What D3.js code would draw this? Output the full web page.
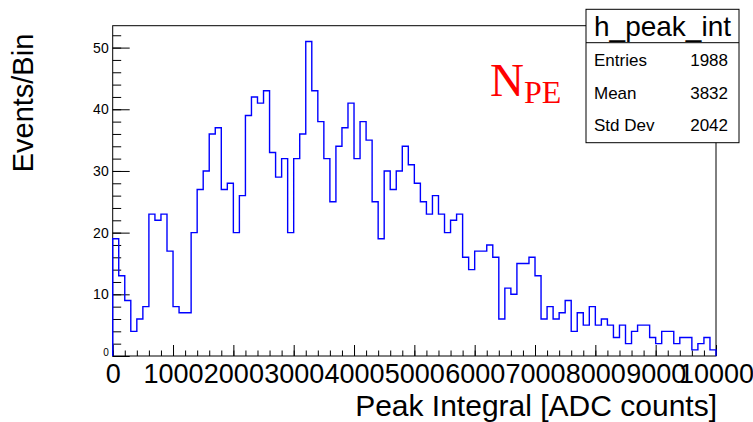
<!DOCTYPE html>
<html>
<head>
<meta charset="utf-8">
<script src="https://cdn.jsdelivr.net/npm/d3@7"></script>
<style>
  body { margin: 0; background: #fff; }
  text { font-family: "Liberation Sans", Arial, Helvetica, sans-serif; }
</style>
</head>
<body>
<svg id="chart" width="753" height="422"></svg>
<script>
// histogram h_peak_int, 100 bins from 0 to 10000
const binLow = 0
const binHigh = 10000
const counts = [
  19, 13, 9, 4, 6, 8, 23, 22, 23, 17,
  8, 7, 7, 20, 27, 30, 36, 37, 27, 28,
  20, 26, 39, 42, 41, 43, 33, 29, 32, 20,
  32, 36, 51, 43, 38, 32, 25, 34, 37, 41,
  32, 38, 35, 25, 19, 30, 27, 30, 34, 31,
  28, 25, 23, 26, 23, 20, 22, 23, 16, 14,
  17, 17, 18, 16, 6, 11, 10, 15, 15, 16,
  13, 6, 8, 6, 7, 9, 4, 7, 5, 8,
  5, 6, 5, 3, 5, 2, 4, 5, 5, 3,
  2, 4, 4, 2, 3, 3, 1, 2, 3, 1
]
const xTicks = [0, 1000, 2000, 3000, 4000, 5000, 6000, 7000, 8000, 9000, 10000]
const yTicks = [0, 10, 20, 30, 40, 50]
const statLabels = ['Entries', 'Mean', 'Std Dev']
const statValues = ['1988', '3832', '2042']

const frame = { left: 112.7, right: 716, top: 25.7, bottom: 356 }

const svg = d3.select('#chart')

const nBins = counts.length
const binW = (binHigh - binLow) / nBins
const yMax = d3.max(counts) * 1.05

const x = d3.scaleLinear().domain([binLow, binHigh]).range([frame.left, frame.right])
const y = d3.scaleLinear().domain([0, yMax]).range([frame.bottom, frame.top])

// minor ticks (inward)
svg.append('g')
  .attr('transform', `translate(0, ${frame.bottom})`)
  .call(d3.axisBottom(x).tickValues(d3.range(binLow, binHigh + 1, 200)).tickSize(-5.5).tickSizeOuter(0).tickFormat(''))
  .call(g => g.select('.domain').remove())

svg.append('g')
  .attr('transform', `translate(${frame.left}, 0)`)
  .call(d3.axisLeft(y).tickValues(d3.range(0, yMax, 2)).tickSize(-8.5).tickSizeOuter(0).tickFormat(''))
  .call(g => g.select('.domain').remove())

// major ticks + labels
const xAxis = svg.append('g')
  .attr('transform', `translate(0, ${frame.bottom})`)
  .call(d3.axisBottom(x).tickValues(xTicks).tickSize(-11).tickSizeOuter(0).tickPadding(8).tickFormat(d3.format('d')))
xAxis.select('.domain').remove()
xAxis.selectAll('text').attr('font-size', 27).attr('fill', '#000')

const yAxis = svg.append('g')
  .attr('transform', `translate(${frame.left}, 0)`)
  .call(d3.axisLeft(y).tickValues(yTicks).tickSize(-17).tickSizeOuter(0).tickPadding(4))
yAxis.select('.domain').remove()
yAxis.selectAll('text').attr('font-size', 14).attr('fill', '#000')
// ROOT shrinks and lifts the zero label
yAxis.selectAll('text').filter(d => d === 0).attr('font-size', 10).attr('dy', '-0.1em')

svg.selectAll('.tick line').attr('stroke', '#000')

// frame
svg.append('rect')
  .attr('x', frame.left).attr('y', frame.top)
  .attr('width', frame.right - frame.left).attr('height', frame.bottom - frame.top)
  .attr('fill', 'none').attr('stroke', '#000').attr('stroke-width', 1)

// step outline
const pts = [[binLow, 0]]
counts.forEach((c, i) => {
  pts.push([binLow + i * binW, c])
  pts.push([binLow + (i + 1) * binW, c])
})
pts.push([binHigh, 0])

svg.append('path')
  .datum(pts)
  .attr('fill', 'none')
  .attr('stroke', '#0000ff')
  .attr('stroke-width', 1.4)
  .attr('d', d3.line().x(d => x(d[0])).y(d => y(d[1])))

// axis titles
svg.append('text')
  .attr('x', frame.right + 1).attr('y', 416)
  .attr('text-anchor', 'end')
  .attr('font-size', 30)
  .text('Peak Integral [ADC counts]')

svg.append('text')
  .attr('transform', `translate(33, ${frame.top + 8}) rotate(-90)`)
  .attr('text-anchor', 'end')
  .attr('font-size', 29)
  .text('Events/Bin')

// N_PE label
const npe = svg.append('text')
  .attr('x', 490).attr('y', 96)
  .attr('fill', '#ff0000')
  .style('font-family', '"Liberation Serif", "Times New Roman", serif')
npe.append('tspan').attr('font-size', 47).text('N')
npe.append('tspan').attr('font-size', 32).attr('dy', 7).text('PE')

// stats box
const box = { left: 586, right: 739, top: 9.3, sep: 42.7, bottom: 142.7 }
svg.append('rect')
  .attr('x', box.left).attr('y', box.top)
  .attr('width', box.right - box.left).attr('height', box.bottom - box.top)
  .attr('fill', '#fff').attr('stroke', '#000').attr('stroke-width', 1)
svg.append('line')
  .attr('x1', box.left).attr('x2', box.right)
  .attr('y1', box.sep).attr('y2', box.sep)
  .attr('stroke', '#000')
svg.append('text')
  .attr('x', (box.left + box.right) / 2).attr('y', 36)
  .attr('text-anchor', 'middle')
  .attr('font-size', 28)
  .text('h_peak_int')

const rowY = [66, 99, 131]
svg.selectAll('.stat-label')
  .data(statLabels)
  .join('text')
  .attr('x', 594).attr('y', (d, i) => rowY[i])
  .attr('font-size', 17)
  .text(d => d)
svg.selectAll('.stat-value')
  .data(statValues)
  .join('text')
  .attr('x', 728).attr('y', (d, i) => rowY[i])
  .attr('text-anchor', 'end')
  .attr('font-size', 17)
  .text(d => d)
</script>
</body>
</html>
